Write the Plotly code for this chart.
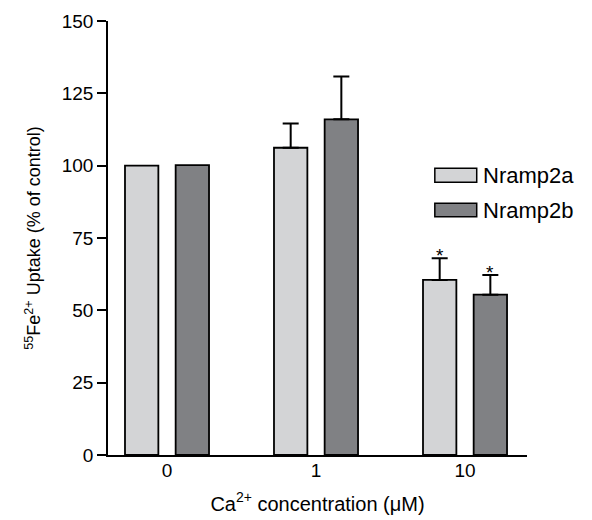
import plotly.graph_objects as go

categories = ["0", "1", "10"]
nramp2a = [100.0, 106.2, 60.5]
nramp2a_err = [0.0, 8.4, 7.5]
nramp2b = [100.2, 116.0, 55.4]
nramp2b_err = [0.0, 14.8, 6.8]
sig_a = ["", "", "*"]
sig_b = ["", "", "*"]
y_ticks = [0, 25, 50, 75, 100, 125, 150]
series_names = ["Nramp2a", "Nramp2b"]

col_a = "#d3d4d6"
col_b = "#808184"
FONT = "Liberation Sans, Arial, sans-serif"
W = 0.224
OFF_A = -0.282
OFF_B = 0.058

fig = go.Figure()
for name, vals, errs, col, off in [
    (series_names[0], nramp2a, nramp2a_err, col_a, OFF_A),
    (series_names[1], nramp2b, nramp2b_err, col_b, OFF_B),
]:
    with_err = [i for i, e in enumerate(errs) if e > 0]
    no_err = [i for i, e in enumerate(errs) if e <= 0]
    for idx, has_err in [(no_err, False), (with_err, True)]:
        if not idx:
            continue
        kw = {}
        if has_err:
            kw["error_y"] = dict(type="data", array=[errs[i] for i in idx],
                                 arrayminus=[0] * len(idx), symmetric=False,
                                 visible=True, color="black", thickness=2, width=8)
        fig.add_trace(go.Bar(
            x=[categories[i] for i in idx], y=[vals[i] for i in idx], name=name,
            width=W, offset=off,
            marker=dict(color=col, line=dict(color="black", width=1.8)),
            showlegend=False, **kw,
        ))

# significance stars
for vals, errs, sig, off in [(nramp2a, nramp2a_err, sig_a, OFF_A), (nramp2b, nramp2b_err, sig_b, OFF_B)]:
    for i, s in enumerate(sig):
        if s:
            fig.add_annotation(x=i + off + W / 2, y=vals[i] + errs[i], xref="x", yref="y",
                               text=s, showarrow=False, yanchor="middle", yshift=3,
                               font=dict(family=FONT, size=19, color="black"))

# custom legend
leg = [(series_names[0], col_a, 0.6283, 0.6606, 0.6445), (series_names[1], col_b, 0.549, 0.580, 0.5645)]
for name, col, y0, y1, yt in leg:
    fig.add_shape(type="rect", xref="paper", yref="paper", x0=0.780, x1=0.880, y0=y0, y1=y1,
                  fillcolor=col, line=dict(color="black", width=1.5))
    fig.add_annotation(xref="paper", yref="paper", x=0.890, y=yt, text=name, showarrow=False,
                       xanchor="left", yanchor="middle",
                       font=dict(family=FONT, size=22, color="black"))

# the page body adds an 8px margin, so the figure is 8px smaller and margins shifted
fig.update_layout(
    width=584, height=512, autosize=False,
    margin=dict(l=100, r=65, t=13, b=65),
    plot_bgcolor="white", paper_bgcolor="white",
    font=dict(family=FONT, color="black"),
    xaxis=dict(type="category", range=[-0.396, 2.416], showgrid=False, zeroline=False,
               showline=True, linecolor="black", linewidth=1.5, ticks="",
               tickfont=dict(size=19), ticklabelstandoff=-3, automargin=False,
               title=dict(text="Ca<sup>2+</sup> concentration (μM)", font=dict(size=20), standoff=17)),
    yaxis=dict(range=[0, 150], tickvals=y_ticks, showgrid=False, zeroline=False,
               showline=True, linecolor="black", linewidth=1.5, ticks="outside",
               ticklen=9, tickwidth=1.5, tickcolor="black", tickfont=dict(size=19),
               automargin=False,
               title=dict(text="<sup>55</sup>Fe<sup>2+</sup> Uptake (% of control)",
                          font=dict(size=18), standoff=16)),
)

fig.write_html("out.html")
